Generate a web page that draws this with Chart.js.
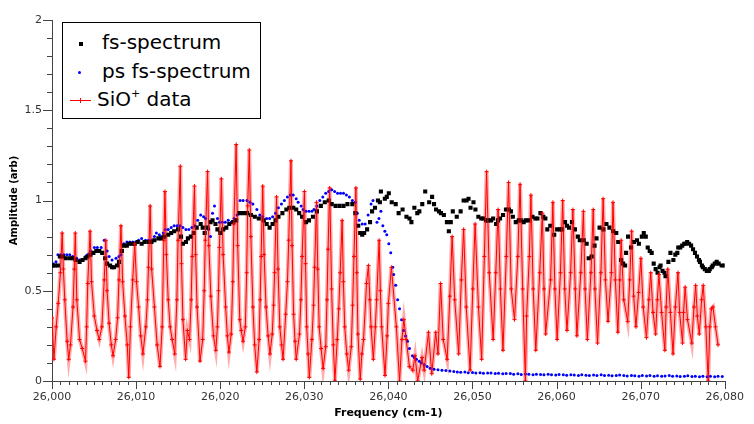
<!DOCTYPE html>
<html>
<head>
<meta charset="utf-8">
<script src="https://cdn.jsdelivr.net/npm/chart.js@4/dist/chart.umd.min.js"></script>
<style>
  html,body{margin:0;padding:0;background:#fff;}
  #wrap{position:relative;width:754px;height:424px;overflow:hidden;background:#fff;}
  #c{position:absolute;left:0;top:0;}
  #legend{position:absolute;left:62px;top:22px;width:197px;height:95px;border:1px solid #000;background:#fff;font-family:"DejaVu Sans",sans-serif;font-size:20px;color:#000;}
  .lt{position:absolute;white-space:nowrap;line-height:24px;}
  .mk{position:absolute;}
  sup{font-size:11px;vertical-align:9px;line-height:0;}
</style>
</head>
<body>
<div id="wrap">
  <canvas id="c" width="754" height="424"></canvas>
  <div id="legend">
    <span class="mk" style="left:16px;top:19px;width:4px;height:4px;background:#000;"></span>
    <span class="lt" style="left:39px;top:7px;">fs-spectrum</span>
    <span class="mk" style="left:15px;top:48px;width:3px;height:3px;background:#0000ff;border-radius:50%;"></span>
    <span class="lt" style="left:39px;top:36px;">ps fs-spectrum</span>
    <span class="mk" style="left:7px;top:77px;width:21px;height:1px;background:#ff0000;"></span>
    <span class="mk" style="left:17px;top:75px;width:1px;height:5px;background:#ff0000;"></span>
    <span class="lt" style="left:34px;top:64px;">SiO<sup>+</sup> data</span>
  </div>
</div>
<script>
// ---- data (frequency offsets from FREQ_BASE, amplitude in arb. units) ----
const FREQ_BASE = 26000;
const xTickMin = 26000, xTickMax = 26080;
const yTickMin = 0, yTickMax = 2;

const fsSpectrum = [
[0.12,0.64],[0.35,0.64],[0.70,0.64],[0.94,0.69],[1.29,0.69],[1.64,0.68],[2.11,0.68],[2.46,0.68],[2.81,0.67],[3.28,0.66],[3.63,0.67],[3.98,0.68],[4.22,0.69],[4.57,0.70],[4.92,0.71],[5.27,0.72],[5.62,0.72],[5.97,0.71],[6.32,0.68],[6.56,0.65],[6.91,0.64],[7.14,0.63],[7.38,0.63],[7.73,0.64],[7.96,0.66],[8.31,0.72],[8.55,0.75],[8.90,0.75],[9.13,0.76],[9.48,0.76],[9.84,0.76],[10.19,0.77],[10.66,0.76],[11.01,0.77],[11.48,0.77],[11.83,0.77],[12.18,0.78],[12.65,0.79],[13.00,0.79],[13.35,0.80],[13.82,0.81],[14.17,0.82],[14.52,0.83],[14.99,0.84],[15.34,0.80],[15.57,0.76],[15.93,0.77],[16.16,0.79],[16.51,0.80],[16.86,0.82],[17.21,0.85],[17.68,0.87],[17.92,0.85],[18.15,0.82],[18.50,0.85],[18.85,0.88],[19.09,0.89],[19.44,0.87],[19.67,0.84],[20.02,0.82],[20.37,0.84],[20.73,0.85],[21.08,0.87],[21.55,0.88],[21.90,0.89],[22.25,0.93],[22.72,0.93],[23.19,0.93],[23.65,0.92],[24.12,0.91],[24.59,0.90],[25.18,0.89],[25.53,0.87],[25.88,0.85],[26.23,0.87],[26.58,0.89],[26.93,0.91],[27.40,0.93],[27.87,0.95],[28.22,0.96],[28.69,0.96],[29.04,0.95],[29.39,0.93],[29.74,0.91],[30.21,0.88],[30.56,0.89],[31.03,0.91],[31.50,0.94],[31.97,0.97],[32.44,0.99],[32.90,1.00],[33.26,0.98],[33.72,0.97],[34.19,0.97],[34.66,0.97],[35.13,0.98],[35.71,0.98],[36.07,0.93],[36.42,0.86],[36.65,0.82],[36.89,0.81],[37.12,0.82],[37.47,0.84],[37.82,0.88],[38.06,0.94],[38.41,0.96],[38.76,1.00],[38.99,0.99],[39.11,1.05],[39.58,1.01],[39.81,1.02],[40.05,1.04],[40.40,0.99],[40.87,0.98],[41.22,0.93],[41.69,0.95],[42.15,0.91],[42.51,0.90],[42.74,0.88],[43.09,0.96],[43.44,0.93],[43.68,0.94],[44.03,0.98],[44.38,1.05],[44.85,0.99],[45.20,1.02],[45.43,0.98],[45.67,0.95],[46.02,0.94],[46.25,0.93],[46.60,0.92],[46.96,0.88],[47.19,0.83],[47.42,0.88],[47.66,0.94],[48.13,0.91],[48.59,0.94],[48.95,1.00],[49.30,1.00],[49.53,1.01],[49.77,0.96],[50.12,0.99],[50.35,0.95],[50.70,0.91],[51.05,0.90],[51.29,0.90],[51.64,0.89],[51.87,0.89],[52.22,0.89],[52.46,0.90],[52.81,0.87],[53.04,0.89],[53.28,0.90],[53.63,0.92],[53.98,0.95],[54.33,0.95],[54.57,0.94],[54.80,0.91],[55.15,0.88],[55.50,0.89],[55.74,0.89],[56.09,0.88],[56.32,0.89],[56.67,0.89],[57.14,0.91],[57.49,0.90],[57.73,0.90],[58.08,0.93],[58.43,0.91],[58.67,0.90],[58.90,0.84],[59.25,0.86],[59.72,0.81],[60.07,0.84],[60.42,0.84],[60.66,0.84],[61.01,0.88],[61.24,0.86],[61.48,0.85],[61.83,0.88],[62.18,0.84],[62.53,0.80],[62.76,0.78],[63.23,0.78],[63.58,0.76],[63.82,0.68],[64.17,0.69],[64.52,0.75],[64.75,0.79],[65.11,0.85],[65.57,0.84],[65.93,0.87],[66.28,0.85],[66.74,0.83],[67.10,0.82],[67.33,0.77],[67.68,0.67],[67.92,0.65],[68.15,0.64],[68.27,0.71],[68.50,0.80],[68.85,0.74],[69.20,0.77],[69.56,0.78],[69.79,0.76],[70.14,0.80],[70.37,0.82],[70.61,0.80],[70.84,0.74],[71.08,0.72],[71.31,0.71],[71.55,0.65],[71.78,0.62],[72.01,0.60],[72.25,0.63],[72.37,0.64],[72.60,0.61],[72.83,0.60],[72.95,0.58],[73.30,0.66],[73.54,0.71],[73.89,0.67],[74.12,0.70],[74.36,0.71],[74.47,0.74],[74.71,0.74],[74.94,0.75],[75.18,0.76],[75.29,0.76],[75.53,0.77],[75.76,0.76],[76.00,0.75],[76.23,0.73],[76.46,0.71],[76.70,0.69],[76.93,0.67],[77.05,0.66],[77.28,0.64],[77.40,0.63],[77.63,0.62],[77.87,0.61],[78.10,0.61],[78.22,0.62],[78.45,0.63],[78.57,0.64],[78.81,0.65],[79.04,0.66],[79.27,0.65],[79.63,0.64],[79.98,0.64]
];

const psSpectrum = [
[0.12,0.65],[0.47,0.66],[0.70,0.70],[1.05,0.70],[1.41,0.70],[1.76,0.70],[2.11,0.70],[2.46,0.69],[2.93,0.68],[3.28,0.67],[3.63,0.67],[3.98,0.69],[4.22,0.70],[4.57,0.72],[5.04,0.74],[5.39,0.74],[5.85,0.74],[6.21,0.78],[6.56,0.72],[6.79,0.69],[7.14,0.67],[7.61,0.68],[7.96,0.69],[8.20,0.70],[8.55,0.76],[8.90,0.77],[9.25,0.77],[9.60,0.77],[9.95,0.77],[10.30,0.78],[10.66,0.79],[11.12,0.78],[11.48,0.78],[11.83,0.78],[12.18,0.80],[12.41,0.82],[12.76,0.81],[13.00,0.80],[13.23,0.82],[13.47,0.84],[13.82,0.84],[14.17,0.85],[14.52,0.86],[14.87,0.86],[15.22,0.86],[15.57,0.85],[15.93,0.84],[16.28,0.84],[16.63,0.85],[16.98,0.86],[17.33,0.89],[17.68,0.92],[18.03,0.91],[18.27,0.90],[18.62,0.84],[18.85,0.80],[19.09,0.93],[19.32,0.97],[19.67,0.90],[19.91,0.88],[20.26,0.88],[20.61,0.88],[20.96,0.89],[21.31,0.88],[21.66,0.90],[22.01,0.92],[22.37,1.00],[22.72,1.00],[23.19,1.00],[23.54,0.99],[23.89,0.98],[24.36,0.95],[24.71,0.92],[25.06,0.91],[25.53,0.90],[25.88,0.90],[26.23,0.91],[26.58,0.93],[26.93,0.96],[27.28,0.98],[27.63,1.00],[27.99,1.02],[28.34,1.03],[28.69,1.03],[29.04,1.01],[29.27,0.99],[29.63,0.97],[29.86,0.95],[30.21,0.94],[30.56,0.94],[30.91,0.94],[31.15,0.95],[31.50,0.97],[31.85,1.00],[32.20,1.02],[32.55,1.04],[32.90,1.05],[33.26,1.06],[33.61,1.05],[33.96,1.04],[34.31,1.04],[34.66,1.04],[35.01,1.03],[35.36,1.02],[35.71,1.00],[36.07,0.99],[36.30,0.93],[36.53,0.89],[36.89,0.87],[37.24,0.87],[37.59,0.92],[37.94,0.98],[38.17,1.00],[38.41,0.96],[38.64,0.88],[38.88,0.90],[39.11,0.94],[39.34,0.86],[39.58,0.83],[39.81,0.81],[40.05,0.76],[40.28,0.71],[40.52,0.63],[40.63,0.59],[40.87,0.53],[41.10,0.45],[41.33,0.40],[41.57,0.34],[41.80,0.28],[42.04,0.25],[42.27,0.22],[42.51,0.18],[42.86,0.14],[43.09,0.13],[43.33,0.12],[43.68,0.11],[43.91,0.10],[44.26,0.09],[44.61,0.08],[44.96,0.07],[45.43,0.065],[45.90,0.062],[46.37,0.060],[46.84,0.058],[47.31,0.055],[47.78,0.052],
[48.2,0.050],[48.6,0.048],[49.1,0.050],[49.5,0.046],[50.0,0.047],[50.4,0.045],[50.9,0.046],[51.3,0.043],[51.8,0.045],[52.2,0.044],[52.7,0.042],[53.1,0.043],[53.6,0.040],[54.0,0.042],[54.5,0.041],[54.9,0.038],[55.4,0.040],[55.8,0.036],[56.3,0.039],[56.7,0.037],[57.2,0.035],[57.6,0.038],[58.1,0.036],[58.5,0.034],[59.0,0.037],[59.4,0.035],[59.9,0.033],[60.3,0.036],[60.8,0.034],[61.2,0.032],[61.7,0.035],[62.1,0.033],[62.6,0.031],[63.0,0.034],[63.5,0.032],[63.9,0.030],[64.4,0.033],[64.8,0.031],[65.3,0.034],[65.7,0.030],[66.2,0.032],[66.6,0.029],[67.1,0.031],[67.5,0.033],[68.0,0.030],[68.4,0.028],[68.9,0.031],[69.3,0.029],[69.8,0.027],[70.2,0.030],[70.7,0.028],[71.1,0.031],[71.6,0.027],[72.0,0.029],[72.5,0.026],[72.9,0.028],[73.4,0.030],[73.8,0.026],[74.3,0.028],[74.7,0.025],[75.2,0.027],[75.6,0.029],[76.1,0.025],[76.5,0.027],[77.0,0.024],[77.4,0.026],[77.9,0.023],[78.3,0.026],[78.8,0.024],[79.2,0.027],[79.7,0.025]
];

const sioData = [
[0.00,0.35],[0.23,0.12],[0.50,0.30],[0.74,0.43],[1.00,0.60],[1.21,0.82],
[1.35,0.62],[1.52,0.45],[1.80,0.22],[1.99,0.12],[2.20,0.20],[2.50,0.41],[2.65,0.62],[2.77,0.82],
[2.95,0.45],[3.28,0.23],[3.60,0.18],[3.98,0.11],[4.12,0.30],[4.25,0.54],[4.53,0.83],
[4.70,0.55],[5.03,0.36],[5.35,0.28],[5.62,0.23],[5.93,0.30],[6.21,0.56],[6.40,0.78],
[6.55,0.50],[6.79,0.32],[7.05,0.20],[7.26,0.14],[7.57,0.23],[7.80,0.35],[7.96,0.56],[8.20,0.86],
[8.40,0.55],[8.67,0.36],[8.95,0.20],[9.13,0.02],[9.33,0.30],[9.60,0.56],[9.84,0.76],
[10.05,0.55],[10.30,0.41],[10.55,0.25],[10.81,0.15],[11.16,0.30],[11.35,0.45],[11.47,0.63],[11.67,0.97],
[11.85,0.62],[12.18,0.41],[12.50,0.20],[12.84,0.08],[13.10,0.30],[13.30,0.78],[13.43,1.05],
[13.60,0.70],[13.82,0.45],[14.05,0.30],[14.29,0.23],[14.60,0.15],[14.85,0.45],[14.99,0.78],[15.26,1.19],
[15.40,0.65],[15.57,0.34],[15.89,0.12],[16.10,0.28],[16.36,0.23],[16.55,0.45],[16.67,0.69],[16.94,1.08],
[17.08,0.70],[17.25,0.41],[17.60,0.11],[17.92,0.23],[18.10,0.50],[18.23,0.78],[18.50,1.16],
[18.65,0.75],[18.89,0.47],[19.20,0.25],[19.48,0.17],[19.67,0.30],[19.80,0.50],[19.91,0.74],[20.14,1.12],
[20.35,0.70],[20.65,0.41],[20.85,0.25],[21.04,0.16],[21.31,0.26],[21.50,0.55],[21.63,0.87],[21.90,1.31],
[22.08,0.75],[22.33,0.34],[22.50,0.28],[22.72,0.22],[22.99,0.30],[23.15,0.60],[23.27,0.97],[23.46,1.28],
[23.65,0.80],[23.89,0.41],[24.10,0.20],[24.36,0.05],[24.63,0.23],[24.75,0.45],[24.87,0.69],[25.06,1.08],
[25.22,0.70],[25.45,0.41],[25.70,0.25],[25.92,0.15],[26.19,0.26],[26.35,0.42],[26.47,0.60],[26.70,1.02],
[26.88,0.62],[27.09,0.30],[27.30,0.20],[27.48,0.12],[27.79,0.37],[28.00,0.55],[28.15,0.78],[28.42,1.22],
[28.55,0.75],[28.73,0.37],[28.90,0.22],[29.04,0.12],[29.43,0.26],[29.60,0.45],[29.74,0.69],[30.02,1.05],
[30.15,0.65],[30.29,0.30],[30.45,0.15],[30.60,0.02],[30.91,0.23],[31.10,0.42],[31.23,0.63],[31.46,0.99],
[31.60,0.62],[31.77,0.30],[32.00,0.18],[32.24,0.07],[32.55,0.19],[32.70,0.45],[32.83,0.73],[33.02,1.07],
[33.25,0.51],[33.45,0.20],[33.64,0.00],[33.92,0.23],[34.10,0.40],[34.27,0.60],[34.50,0.89],
[34.65,0.55],[34.81,0.30],[35.05,0.15],[35.28,0.06],[35.59,0.19],[35.75,0.42],[35.91,0.69],[36.14,1.07],
[36.25,0.60],[36.38,0.26],[36.65,0.01],[36.85,0.15],[37.05,0.23],[37.40,0.54],[37.63,0.64],
[37.80,0.45],[37.94,0.30],[38.21,0.12],[38.45,0.30],[38.60,0.45],[38.90,0.78],
[39.05,0.50],[39.20,0.30],[39.60,0.03],[39.85,0.25],[40.00,0.43],[40.36,0.63],
[40.95,0.30],[41.33,0.00],[41.61,0.23],[41.84,0.34],[42.12,0.23],[42.50,0.08],[42.90,0.06],[43.17,0.14],[43.48,0.00],[44.00,0.13],[44.26,0.06],[44.77,0.27],[45.16,0.04],[45.63,0.27],[45.90,0.15],[46.21,0.54],[46.52,0.23],[46.99,0.12],[47.31,0.47],[47.58,0.80],[47.89,0.45],[48.36,0.15],[48.67,0.56],[48.95,0.84],[49.26,0.41],[49.72,0.06],[50.04,0.51],[50.31,0.87],[50.71,0.41],[51.09,0.12],[51.41,0.69],[51.68,1.16],[51.99,0.60],[52.46,0.23],[52.77,0.60],[53.05,0.95],[53.32,0.51],[53.63,0.17],[54.02,0.69],[54.29,1.10],[54.61,0.51],[55.00,0.34],[55.39,0.69],[55.66,1.09],[55.97,0.51],[56.29,0.00],[56.44,0.36],[56.76,0.69],[56.95,1.03],[57.22,0.51],[57.53,0.17],[58.00,0.60],[58.31,0.93],[58.51,0.51],[58.70,0.26],[59.29,0.56],[59.56,0.99],[59.80,0.51],[60.07,0.23],[60.46,0.60],[60.73,1.00],[60.97,0.51],[61.24,0.28],[61.67,0.60],[61.94,0.95],[62.22,0.51],[62.42,0.25],[62.88,0.60],[63.19,0.94],[63.39,0.51],[63.66,0.23],[64.09,0.60],[64.36,0.95],[64.56,0.51],[64.87,0.21],[65.27,0.60],[65.54,1.01],[65.81,0.56],[66.12,0.33],[66.52,0.60],[66.71,0.99],[66.99,0.56],[67.29,0.27],[67.52,0.56],[67.68,0.78],[67.99,0.45],[68.46,0.33],[68.70,0.56],[68.93,0.83],[69.17,0.47],[69.44,0.30],[69.75,0.49],[70.03,0.68],[70.30,0.41],[70.69,0.24],[70.97,0.45],[71.20,0.60],[71.47,0.38],[71.78,0.26],[71.98,0.45],[72.17,0.59],[72.49,0.38],[72.88,0.17],[73.03,0.41],[73.22,0.62],[73.54,0.38],[73.85,0.15],[74.12,0.41],[74.44,0.60],[74.63,0.38],[74.98,0.21],[75.10,0.38],[75.29,0.52],[75.57,0.34],[76.08,0.21],[76.34,0.41],[76.54,0.53],[76.74,0.36],[76.97,0.26],[77.25,0.45],[77.44,0.53],[77.75,0.30],[78.03,0.00],[78.22,0.30],[78.41,0.40],[78.60,0.41],[78.90,0.30],[79.20,0.20]
];

// ---- chart ----
const AXIS_COLOR = '#444';
const toPts = arr => arr.map(p => ({x: FREQ_BASE + p[0], y: p[1]}));
const fmtThousands = v => String(Math.round(v)).replace(/\B(?=(\d{3})+(?!\d))/g, ',');

const tickMarks = {
  id: 'tickMarks',
  afterDraw(chart) {
    const {ctx, chartArea} = chart;
    const xs = chart.scales.x, ys = chart.scales.y;
    ctx.save();
    ctx.strokeStyle = AXIS_COLOR;
    ctx.lineWidth = 1;
    ctx.beginPath();
    xs.ticks.forEach(t => {
      const px = Math.round(xs.getPixelForValue(t.value)) + 0.5;
      const major = Math.round(t.value - FREQ_BASE) % 10 === 0;
      ctx.moveTo(px, chartArea.bottom);
      ctx.lineTo(px, chartArea.bottom + (major ? 8 : 4));
    });
    ys.ticks.forEach(t => {
      const py = Math.round(ys.getPixelForValue(t.value)) + 0.5;
      const major = Math.round(t.value * 10) % 5 === 0;
      ctx.moveTo(chartArea.left, py);
      ctx.lineTo(chartArea.left - (major ? 9 : 5), py);
    });
    ctx.stroke();
    ctx.restore();
  }
};

Chart.defaults.font.family = '"DejaVu Sans", sans-serif';

new Chart(document.getElementById('c'), {
  type: 'scatter',
  data: {
    datasets: [
      {
        label: 'SiO+ data',
        data: toPts(sioData),
        showLine: true,
        borderColor: '#ff0000',
        borderWidth: 1,
        pointStyle: 'cross',
        pointRadius: 2,
        pointBorderColor: '#ff0000',
        pointBorderWidth: 1,
        tension: 0,
        order: 0
      },
      {
        label: 'fs-spectrum',
        data: toPts(fsSpectrum),
        showLine: false,
        pointStyle: 'rect',
        pointRadius: 2.9,
        backgroundColor: '#000000',
        borderWidth: 0,
        pointBorderWidth: 0,
        order: 1
      },
      {
        label: 'ps fs-spectrum',
        data: toPts(psSpectrum),
        showLine: false,
        pointStyle: 'circle',
        pointRadius: 1.5,
        backgroundColor: '#0000ff',
        borderWidth: 0,
        pointBorderWidth: 0,
        order: 2
      },
      {
        label: 'SiO+ band',
        data: toPts(sioData),
        showLine: true,
        borderColor: 'rgba(255,70,70,0.45)',
        borderWidth: 4,
        pointRadius: 0,
        tension: 0,
        order: 3
      }
    ]
  },
  options: {
    responsive: false,
    animation: false,
    events: [],
    layout: { padding: { left: 0, right: 19, top: 20, bottom: 0 } },
    plugins: { legend: { display: false }, tooltip: { enabled: false } },
    scales: {
      x: {
        type: 'linear',
        min: xTickMin, max: xTickMax,
        grid: { display: false, drawTicks: false },
        border: { display: true, color: AXIS_COLOR, width: 1 },
        ticks: {
          stepSize: 1, autoSkip: false, maxRotation: 0, padding: 10,
          color: '#333', font: { size: 11 },
          callback: v => (Math.round(v - FREQ_BASE) % 10 === 0 ? fmtThousands(v) : '')
        },
        title: { display: true, text: 'Frequency (cm-1)', color: '#000', font: { size: 11, weight: 'bold' }, padding: { top: 0, bottom: 4 } },
        afterFit: s => { s.height = 43; }
      },
      y: {
        type: 'linear',
        min: yTickMin, max: yTickMax,
        grid: { display: false, drawTicks: false },
        border: { display: true, color: AXIS_COLOR, width: 1 },
        ticks: {
          stepSize: 0.1, autoSkip: false, padding: 10,
          color: '#333', font: { size: 11 },
          callback: v => { const k = Math.round(v * 10); return k % 5 === 0 ? String(k / 10) : ''; }
        },
        title: { display: true, text: 'Amplitude (arb)', color: '#000', font: { size: 10, weight: 'bold' }, padding: { top: 8, bottom: 0 } },
        afterFit: s => { s.width = 52; }
      }
    }
  },
  plugins: [tickMarks]
});
</script>
</body>
</html>
